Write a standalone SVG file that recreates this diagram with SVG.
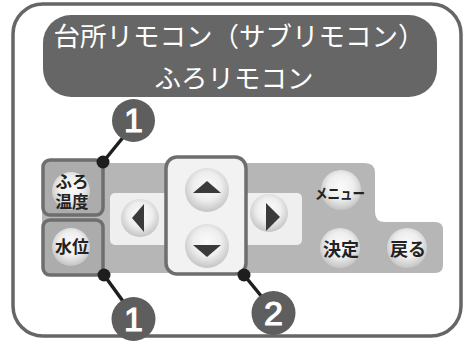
<svg xmlns="http://www.w3.org/2000/svg" width="469" height="347" viewBox="0 0 469 347">
<defs>
<radialGradient id="btn" cx="50%" cy="42%" r="58%">
<stop offset="0" stop-color="#fbfbfb"/>
<stop offset="0.55" stop-color="#eeeeee"/>
<stop offset="1" stop-color="#c4c4c4"/>
</radialGradient>
<style>
.lbl{font-family:"Noto Sans CJK JP","Noto Sans",sans-serif;font-weight:bold;fill:#222;text-anchor:middle}
.title{font-family:"Noto Sans CJK JP","Noto Sans",sans-serif;fill:#fff;font-size:26.5px;text-anchor:middle}
.num{font-family:"Liberation Sans",Arial,sans-serif;fill:#fff;stroke:#fff;stroke-width:1.2;font-size:34px;text-anchor:middle}
.ncirc{fill:#5e5e5e}
.btn{fill:url(#btn)}
.box{fill:#acacac;stroke:#6e6e6e;stroke-width:3.5}
.tri{fill:#3a3a3a}
.lead{stroke:#1e1e1e;stroke-width:3.5;fill:none}
.dot{fill:#1e1e1e}
</style>
</defs>
<rect x="0" y="0" width="469" height="347" fill="#fff"/>
<rect id="frame" x="13" y="4" width="448" height="332" rx="30" fill="#fff" stroke="#666" stroke-width="3.5"/>
<g id="title">
<rect x="43" y="15" width="394" height="82" rx="28" fill="#666"/>
<text class="title" x="239" y="46">台所リモコン（サブリモコン）</text>
<text class="title" x="234" y="88">ふろリモコン</text>
</g>
<g id="panel">
<path d="M50,163 H365 Q375,163 375,173 V212 Q375,222 385,222 H435 Q443,222 443,230 V265 Q443,273 435,273 H50 Q42,273 42,265 V171 Q42,163 50,163 Z" fill="#b6b6b6"/>
<rect x="110" y="193" width="192" height="52" rx="5" fill="#efefef"/>
</g>
<g id="btn-furo">
<rect class="box" x="43" y="160" width="60" height="55" rx="7"/>
<circle class="btn" cx="71" cy="191" r="19"/>
<text class="lbl" x="72" y="188" font-size="16.5">ふろ</text>
<text class="lbl" x="72" y="208" font-size="16.5">温度</text>
</g>
<g id="btn-suii">
<rect class="box" x="43" y="220" width="60" height="55" rx="7"/>
<circle class="btn" cx="71" cy="247" r="19"/>
<text class="lbl" x="72" y="253" font-size="17">水位</text>
</g>
<g id="btn-left">
<circle class="btn" cx="140" cy="218" r="19"/>
<path class="tri" d="M132,218 L144,204 V232 Z"/>
</g>
<g id="btn-updown">
<rect x="166" y="157" width="80" height="117" rx="11" fill="#f2f2f2" stroke="#6e6e6e" stroke-width="3.5"/>
<circle class="btn" cx="207" cy="190" r="22"/>
<path class="tri" d="M193,193 L207,181 L221,193 Z"/>
<circle class="btn" cx="207" cy="246" r="22"/>
<path class="tri" d="M193,245 L221,245 L207,257 Z"/>
</g>
<g id="btn-right">
<circle class="btn" cx="269" cy="213" r="19"/>
<path class="tri" d="M280,217 L266,203 V231 Z"/>
</g>
<g id="btn-menu">
<circle class="btn" cx="341" cy="190" r="20"/>
<text class="lbl" x="340" y="199" font-size="15" textLength="50" lengthAdjust="spacingAndGlyphs">メニュー</text>
</g>
<g id="btn-kettei">
<circle class="btn" cx="340" cy="248" r="20"/>
<text class="lbl" x="341" y="256" font-size="18">決定</text>
</g>
<g id="btn-modoru">
<circle class="btn" cx="407" cy="248" r="20"/>
<text class="lbl" x="408" y="256" font-size="18">戻る</text>
</g>
<g id="connectors">
<line class="lead" x1="103" y1="162" x2="125" y2="135"/>
<circle class="dot" cx="103" cy="162" r="6.5"/>
<line class="lead" x1="104" y1="275" x2="125" y2="304"/>
<circle class="dot" cx="104" cy="275" r="6.5"/>
<line class="lead" x1="244" y1="275" x2="262" y2="297"/>
<circle class="dot" cx="244" cy="275" r="6.5"/>
</g>
<g id="callout-1-top">
<circle class="ncirc" cx="133.5" cy="120.5" r="21.5"/>
<text class="num" x="133.5" y="132">1</text>
</g>
<g id="callout-1-bottom">
<circle class="ncirc" cx="133.5" cy="319" r="22"/>
<text class="num" x="133.5" y="331">1</text>
</g>
<g id="callout-2">
<circle class="ncirc" cx="273.5" cy="313" r="22"/>
<text class="num" x="273.5" y="325">2</text>
</g>
</svg>
